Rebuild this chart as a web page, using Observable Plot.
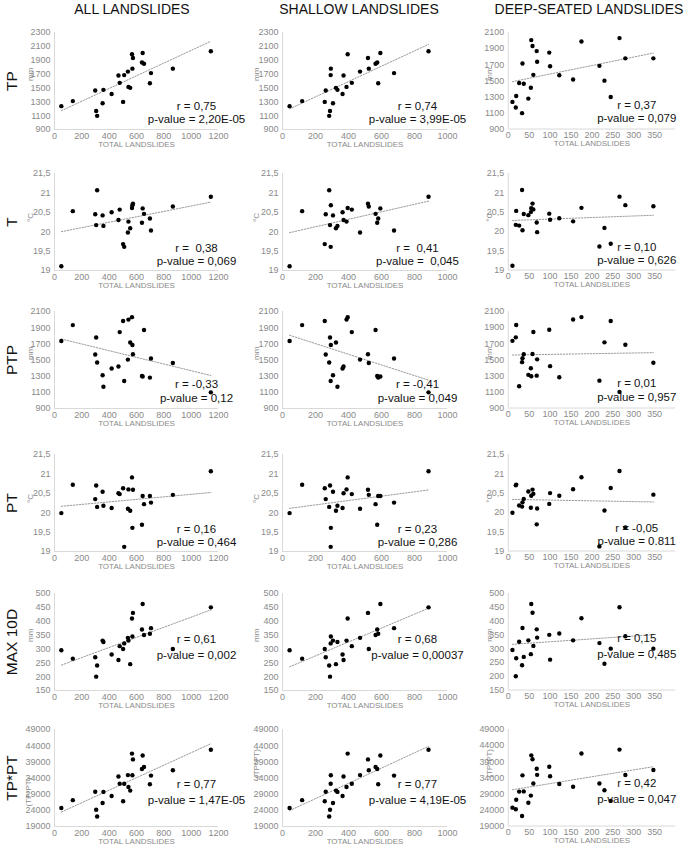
<!DOCTYPE html>
<html><head><meta charset="utf-8">
<script src="https://cdn.jsdelivr.net/npm/d3@7"></script>
<script src="https://cdn.jsdelivr.net/npm/@observablehq/plot@0.6"></script>
<style>
body{margin:0;background:#fff;font-family:"Liberation Sans",Arial,sans-serif;}
#wrap{position:relative;width:685px;height:851px;overflow:hidden;background:#fff;}
.ct{position:absolute;top:1px;width:300px;text-align:center;font-size:14px;line-height:16px;color:#111;white-space:nowrap;}
.rl{position:absolute;left:12px;font-size:15.5px;color:#111;white-space:nowrap;transform:translate(-50%,-50%) rotate(-90deg);}
.pn{position:absolute;}
</style></head>
<body><div id="wrap"></div>
<script>
// ---- data (one value per year, same year order in every array) ----
const allLandslides     = [312,305,50,352,502,134,418,298,358,541,554,477,698,468,510,706,537,570,866,655,640,574,567,645,1144];
const shallowLandslides = [283,288,43,306,256,119,364,262,333,388,324,420,580,370,292,676,470,293,523,564,574,518,395,593,885];
const deepLandslides    = [33,18,10,48,245,19,54,37,26,155,230,60,122,100,218,34,69,280,347,98,68,58,175,55,266];
const TP    = [1097,1168,1237,1278,1298,1310,1413,1462,1472,1515,1501,1573,1568,1680,1685,1714,1736,1778,1778,1850,1868,1931,1987,2005,2030];
const T     = [21.07,20.17,19.11,20.42,19.68,20.53,20.50,20.45,20.15,20.26,20.09,20.57,20.34,20.30,19.61,20.03,19.98,20.68,20.65,20.46,20.23,20.72,20.61,20.60,20.90];
const PTP   = [1470,1778,1735,1312,1982,1932,1395,1568,1170,2000,1716,1845,1282,1420,1240,1519,1505,1686,1463,1872,1302,1572,2030,1295,1100];
const PT    = [20.15,20.70,19.99,20.54,20.63,20.72,20.12,20.35,20.18,20.60,20.05,20.48,20.43,20.50,19.12,20.26,20.10,19.61,20.46,20.22,19.69,20.59,20.91,20.43,21.07];
const MAX10D= [240,200,295,330,300,265,280,270,325,330,245,310,355,260,320,375,340,345,300,350,370,430,410,462,450];
const TPxPT = [22100,24200,24700,26250,26800,27150,28450,29750,29700,31200,30100,32200,32050,34450,32200,34750,34900,34850,36400,37400,36800,39750,41550,40950,42750];

const columnTitles = ["ALL LANDSLIDES","SHALLOW LANDSLIDES","DEEP-SEATED LANDSLIDES"];
const rowLabels = ["TP","T","PTP","PT","MAX 10D","TP*PT"];
const unitLabels = ["mm","°C","mm","°C","mm","(TP*PT)"];
const xTitle = "TOTAL LANDSLIDES";
const xTicksAll = [0,200,400,600,800,1000,1200];
const xTicksShallow = [0,200,400,600,800,1000];
const xTicksDeep = [0,50,100,150,200,250,300,350];
const yTicksTP = [900,1100,1300,1500,1700,1900,2100,2300];
const yTicksTPdeep = [900,1100,1300,1500,1700,1900,2100];
const yTicksT = [19,19.5,20,20.5,21,21.5];
const yTicksPTP = [900,1100,1300,1500,1700,1900,2100];
const yTicksMAX = [150,200,250,300,350,400,450,500];
const yTicksTPPT = [19000,24000,29000,34000,39000,44000,49000];
const rTexts = [
  ["r = 0,75","r = 0,74","r = 0,37"],
  ["r =  0,38","r =  0,41","r = 0,10"],
  ["r = -0,33","r = -0,41","r = 0,01"],
  ["r = 0,16","r = 0,23","r = -0,05"],
  ["r = 0,61","r = 0,68","r = 0,15"],
  ["r = 0,77","r = 0,77","r = 0,42"]];
const pTexts = [
  ["p-value = 2,20E-05","p-value = 3,99E-05","p-value = 0,079"],
  ["p-value = 0,069","p-value =  0,045","p-value = 0,626"],
  ["p-value = 0,12","p-value = 0,049","p-value = 0,957"],
  ["p-value = 0,464","p-value = 0,286","p-value = 0.811"],
  ["p-value = 0,002","p-value = 0,00037","p-value = 0,485"],
  ["p-value = 1,47E-05","p-value = 4,19E-05","p-value = 0,047"]];

// ---- layout ----
const xCols = [allLandslides, shallowLandslides, deepLandslides];
const xTicksCols = [xTicksAll, xTicksShallow, xTicksDeep];
const xDomains = [[0,1200],[0,1000],[0,400]];
const yRows = [TP, T, PTP, PT, MAX10D, TPxPT];
const yTicksRows = [[yTicksTP,yTicksTP,yTicksTPdeep],[yTicksT,yTicksT,yTicksT],[yTicksPTP,yTicksPTP,yTicksPTP],[yTicksT,yTicksT,yTicksT],[yTicksMAX,yTicksMAX,yTicksMAX],[yTicksTPPT,yTicksTPPT,yTicksTPPT]];
const colLeft = [0,228,455], colML = [54,54,53], colPW = [164,165,168];
const rowTop = [32,173,311,454,593,729], PH = 97, MT = 10, MB = 28;
const textDx = [-22,-30,-39];
const textDy = [[-20,-7],[-19,-6],[-21,-7],[-19,-6],[-48,-32],[-39,-23]];
const unitDx = [-24,-26,-19];
const titleCenters = [132,359,589];

const wrap = document.getElementById("wrap");
const fmtY = d => String(d).replace(".", ",");
const fmtX = d => String(d);
const font = '"Liberation Sans", Arial, sans-serif';

columnTitles.forEach((t,c)=>{
  const d = document.createElement("div"); d.className="ct"; d.textContent=t;
  d.style.left = (titleCenters[c]-150)+"px"; wrap.appendChild(d);
});
rowLabels.forEach((t,r)=>{
  const d = document.createElement("div"); d.className="rl"; d.textContent=t;
  d.style.top = (rowTop[r]+PH/2)+"px"; wrap.appendChild(d);
});

for (let r=0;r<6;r++) for (let c=0;c<3;c++) {
  const data = xCols[c].map((x,i)=>({x, y: yRows[r][i]}));
  const yt = yTicksRows[r][c];
  const yDom = [yt[0], yt[yt.length-1]];
  const unitOpts = (r===5 && c===0)
    ? {frameAnchor:"bottom-left", dy:-20}
    : {frameAnchor:"left"};
  const svg = Plot.plot({
    width: colML[c]+colPW[c]+10, height: MT+PH+MB,
    marginLeft: colML[c], marginRight: 10, marginTop: MT, marginBottom: MB,
    style: {background:"transparent", overflow:"visible", fontFamily: font, fontSize:"9px", color:"#8a8a8a"},
    x: {domain: xDomains[c], ticks: xTicksCols[c], tickSize: 0, tickPadding: 3, label: null, tickFormat: fmtX},
    y: {domain: yDom, ticks: yt, tickSize: 0, tickPadding: 4, label: null, tickFormat: fmtY},
    marks: [
      Plot.ruleX([xDomains[c][0]], {stroke:"#d9d9d9"}),
      Plot.ruleY([yDom[0]], {stroke:"#d9d9d9"}),
      Plot.linearRegressionY(data, {x:"x", y:"y", ci:0, stroke:"#9a9a9a", strokeWidth:1, strokeDasharray:"1.5,1.5"}),
      Plot.dot(data, {x:"x", y:"y", r:2.2, fill:"black", stroke:"none"}),
      Plot.text([rTexts[r][c]], {text:d=>d, frameAnchor:"bottom-right", textAnchor:"middle", dx:textDx[c], dy:textDy[r][0], fontSize:11.5, fill:"#111", fontFamily:font}),
      Plot.text([pTexts[r][c]], {text:d=>d, frameAnchor:"bottom-right", textAnchor:"middle", dx:textDx[c], dy:textDy[r][1], fontSize:11.5, fill:"#111", fontFamily:font}),
      Plot.text([xTitle], {text:d=>d, frameAnchor:"bottom", dy:17, fontSize:8, fill:"#8a8a8a", fontFamily:font}),
      Plot.text([unitLabels[r]], {text:d=>d, ...unitOpts, rotate:-90, dx:unitDx[c], fontSize:8, fill:"#8a8a8a", fontFamily:font})
    ]
  });
  const holder = document.createElement("div"); holder.className="pn";
  holder.style.left = colLeft[c]+"px"; holder.style.top = (rowTop[r]-MT)+"px";
  holder.appendChild(svg); wrap.appendChild(holder);
}
</script>
</body></html>
